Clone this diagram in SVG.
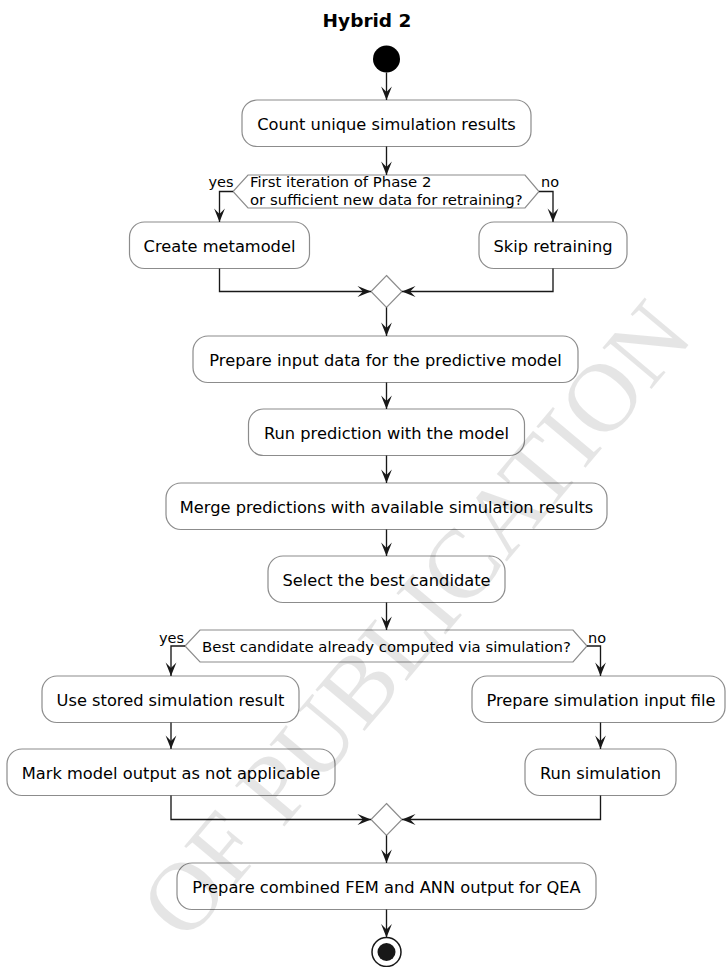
<svg xmlns="http://www.w3.org/2000/svg" width="726" height="967" viewBox="0 0 726 967">
<style>
  .box { fill: #ffffff; stroke: #8c8c8c; stroke-width: 1.2; }
  .dia { fill: #ffffff; stroke: #8c8c8c; stroke-width: 1.2; }
  .t { font-family: "DejaVu Sans", sans-serif; font-size: 16.25px; fill: #000000; text-anchor: middle; }
  .d { font-family: "DejaVu Sans", sans-serif; font-size: 14.9px; fill: #000000; }
  .lbl { font-family: "DejaVu Sans", sans-serif; font-size: 14.5px; fill: #000000; }
  .title { font-family: "DejaVu Sans", sans-serif; font-size: 18.5px; font-weight: bold; fill: #000000; text-anchor: middle; }
  .c { fill: none; stroke: #181818; stroke-width: 1.35; }
  .wm { font-family: "Liberation Serif", serif; font-size: 98px; fill: #000000; fill-opacity: 0.1; }
</style>
<defs>
  <marker id="arr" markerUnits="userSpaceOnUse" markerWidth="16" markerHeight="14" viewBox="-15 -7 16 14" refX="0" refY="0" orient="auto">
    <path d="M0,0 L-13.5,-5.4 L-8.1,0 L-13.5,5.4 Z" fill="#181818"/>
  </marker>
</defs>
<rect x="0" y="0" width="726" height="967" fill="#ffffff"/>

<text class="title" x="367" y="26.5">Hybrid 2</text>

<g id="start"><circle cx="386.5" cy="59" r="13.5" fill="#000000"/></g>

<g id="n1"><rect class="box" x="242" y="100" width="289" height="46.5" rx="15"/><text class="t" x="386.5" y="129.5">Count unique simulation results</text></g>

<g id="d1"><polygon class="dia" points="248,175 525,175 539,191.5 525,208 248,208 233,191.5"/>
<text class="d" x="250" y="187">First iteration of Phase 2</text>
<text class="d" x="250" y="204.5">or sufficient new data for retraining?</text></g>

<g id="n2"><rect class="box" x="129.5" y="222" width="180" height="46.5" rx="15"/><text class="t" x="219.5" y="251.5">Create metamodel</text></g>
<g id="n3"><rect class="box" x="479" y="222" width="148" height="46.5" rx="15"/><text class="t" x="553" y="251.5">Skip retraining</text></g>

<g id="m1"><polygon class="dia" points="386.5,275.5 402,291.5 386.5,307.5 371,291.5"/></g>

<g id="n4"><rect class="box" x="193" y="336" width="385" height="46.5" rx="15"/><text class="t" x="385.5" y="365.5">Prepare input data for the predictive model</text></g>
<g id="n5"><rect class="box" x="248.5" y="409" width="276" height="46.5" rx="15"/><text class="t" x="386.5" y="438.5">Run prediction with the model</text></g>
<g id="n6"><rect class="box" x="166" y="483" width="441" height="46.5" rx="15"/><text class="t" x="386.5" y="512.5">Merge predictions with available simulation results</text></g>
<g id="n7"><rect class="box" x="268" y="556" width="237" height="46.5" rx="15"/><text class="t" x="386.5" y="585.5">Select the best candidate</text></g>

<g id="d2"><polygon class="dia" points="200,630 573,630 587,646 573,662 200,662 185,646"/>
<text class="d" x="202" y="651.5">Best candidate already computed via simulation?</text></g>

<g id="n8"><rect class="box" x="42" y="676" width="257" height="46.5" rx="15"/><text class="t" x="170.5" y="705.5">Use stored simulation result</text></g>
<g id="n10"><rect class="box" x="472" y="676" width="253" height="46.5" rx="15"/><text class="t" x="601" y="705.5">Prepare simulation input file</text></g>
<g id="n9"><rect class="box" x="7" y="749" width="328" height="46.5" rx="15"/><text class="t" x="171" y="778.5">Mark model output as not applicable</text></g>
<g id="n11"><rect class="box" x="525" y="749" width="151" height="46.5" rx="15"/><text class="t" x="600.5" y="778.5">Run simulation</text></g>

<g id="m2"><polygon class="dia" points="386.5,803.5 402,819.5 386.5,835.5 371,819.5"/></g>

<g id="n12"><rect class="box" x="177" y="863" width="419" height="46.5" rx="15"/><text class="t" x="386.5" y="892.5">Prepare combined FEM and ANN output for QEA</text></g>

<g id="end"><circle cx="386.5" cy="952" r="14.5" fill="#ffffff" stroke="#181818" stroke-width="1.5"/><circle cx="386.5" cy="952" r="9" fill="#181818"/></g>

<g id="labels">
<text class="lbl" x="208.5" y="187">yes</text>
<text class="lbl" x="541" y="187">no</text>
<text class="lbl" x="159" y="642.5">yes</text>
<text class="lbl" x="588" y="642.5">no</text>
</g>

<g id="connectors">
<path class="c" d="M386.5,72.5 V100" marker-end="url(#arr)"/>
<path class="c" d="M386.5,146.5 V175" marker-end="url(#arr)"/>
<path class="c" d="M233,191.5 H219.5 V222" marker-end="url(#arr)"/>
<path class="c" d="M539,191.5 H553 V222" marker-end="url(#arr)"/>
<path class="c" d="M219.5,268.5 V291.5 H371" marker-end="url(#arr)"/>
<path class="c" d="M553,268.5 V291.5 H402" marker-end="url(#arr)"/>
<path class="c" d="M386.5,307.5 V336" marker-end="url(#arr)"/>
<path class="c" d="M386.5,382.5 V409" marker-end="url(#arr)"/>
<path class="c" d="M386.5,455.5 V483" marker-end="url(#arr)"/>
<path class="c" d="M386.5,529.5 V556" marker-end="url(#arr)"/>
<path class="c" d="M386.5,602.5 V630" marker-end="url(#arr)"/>
<path class="c" d="M185,646 H171 V676" marker-end="url(#arr)"/>
<path class="c" d="M587,646 H600.5 V676" marker-end="url(#arr)"/>
<path class="c" d="M171,722.5 V749" marker-end="url(#arr)"/>
<path class="c" d="M600.5,722.5 V749" marker-end="url(#arr)"/>
<path class="c" d="M171,795.5 V819.5 H371" marker-end="url(#arr)"/>
<path class="c" d="M600.5,795.5 V819.5 H402" marker-end="url(#arr)"/>
<path class="c" d="M386.5,835.5 V863" marker-end="url(#arr)"/>
<path class="c" d="M386.5,909.5 V937.5" marker-end="url(#arr)"/>
</g>

<text class="wm" transform="translate(186,944) rotate(-50)">OF PUBLICATION</text>
</svg>
